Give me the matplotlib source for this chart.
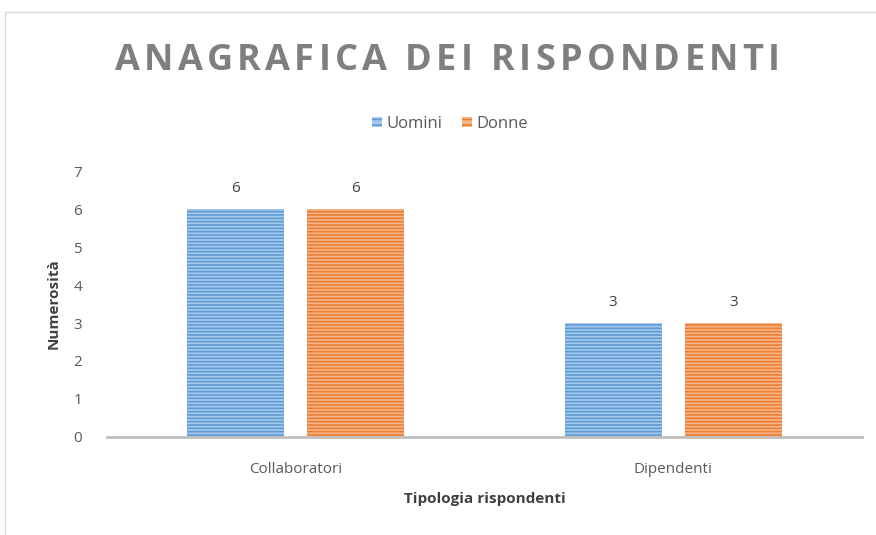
import matplotlib
matplotlib.use("Agg")
import matplotlib.pyplot as plt
from matplotlib.patches import Patch
from matplotlib.lines import Line2D
import numpy as np

categories = ["Collaboratori", "Dipendenti"]
series_names = ["Uomini", "Donne"]
uomini = [6, 3]
donne = [6, 3]
yticks = [0, 1, 2, 3, 4, 5, 6, 7]
title = "ANAGRAFICA DEI RISPONDENTI"

plt.rcParams['font.family'] = ['Open Sans', 'DejaVu Sans']
plt.rcParams['hatch.linewidth'] = 1.2

W, H = 876, 535
fig = plt.figure(figsize=(W/100, H/100), dpi=100)
ax = fig.add_axes([107/W, 1-437/H, (862-107)/W, (437-171)/H])

x = np.arange(len(categories))
w = 0.257
off = w/2 + 0.031
face_cols = ["#A9C9EB", "#F6B58A"]
hatch_cols = ["#5B9BD5", "#ED7D31"]
for i, (vals, fc, hc) in enumerate(zip([uomini, donne], face_cols, hatch_cols)):
    pos = x + (-off if i == 0 else off)
    bars = ax.bar(pos, vals, width=w, color=fc, edgecolor=hc, hatch='-----', linewidth=0)
    for b, v in zip(bars, vals):
        ax.text(b.get_x() + b.get_width()/2, v + 0.35, str(v), ha='center', va='bottom',
                fontsize=11, color='#404040')

ax.set_xlim(-0.5, 1.5)
ax.set_ylim(0, 7)
ax.set_yticks(yticks)
ax.set_xticks(x)
ax.set_xticklabels(categories)
ax.tick_params(axis='both', length=0, labelsize=11, labelcolor='#595959')
ax.tick_params(axis='y', pad=18)
ax.tick_params(axis='x', pad=18)
for s in ['top', 'right', 'left']:
    ax.spines[s].set_visible(False)
ax.spines['bottom'].set_color('#BFBFBF')
ax.spines['bottom'].set_linewidth(2)

ax.set_xlabel("Tipologia rispondenti", fontsize=11, fontweight='bold', color='#404040', labelpad=11)
ax.set_ylabel("Numerosità", fontsize=11, fontweight='bold', color='#404040', labelpad=9)

# letter-spaced title
renderer = fig.canvas.get_renderer()
tprops = dict(fontsize=26, fontweight='bold', color='#7F7F7F', va='center', ha='left')
def text_width(s):
    if not s:
        return 0.0
    t = fig.text(0, 0, s + "|", **tprops)
    wdt = t.get_window_extent(renderer).width
    t.remove()
    t2 = fig.text(0, 0, "|", **tprops)
    wb = t2.get_window_extent(renderer).width
    t2.remove()
    return wdt - wb
natural = text_width(title)
left_px, right_px = 115, 780
spacing = (right_px - left_px - natural) / (len(title) - 1)
for i, ch in enumerate(title):
    if ch == " ":
        continue
    xpx = left_px + text_width(title[:i]) + i * spacing
    fig.text(xpx / W, 1 - 61/H, ch, **tprops)

handles = [Patch(facecolor=fc, edgecolor=hc, hatch='---', linewidth=0) for fc, hc in zip(face_cols, hatch_cols)]
fig.legend(handles, series_names, loc='center', bbox_to_anchor=(450/W, 1-124/H), ncol=2,
           frameon=False, fontsize=12, handlelength=0.6, handleheight=0.6, handletextpad=0.25,
           columnspacing=1.2, labelcolor='#595959')

# chart frame
fig.add_artist(Line2D([5/W, 5/W], [0, 1-12/H], transform=fig.transFigure, color='#D9D9D9', lw=1))
fig.add_artist(Line2D([5/W, 1], [1-12/H, 1-12/H], transform=fig.transFigure, color='#D9D9D9', lw=1))

fig.savefig("out.png", dpi=100)
